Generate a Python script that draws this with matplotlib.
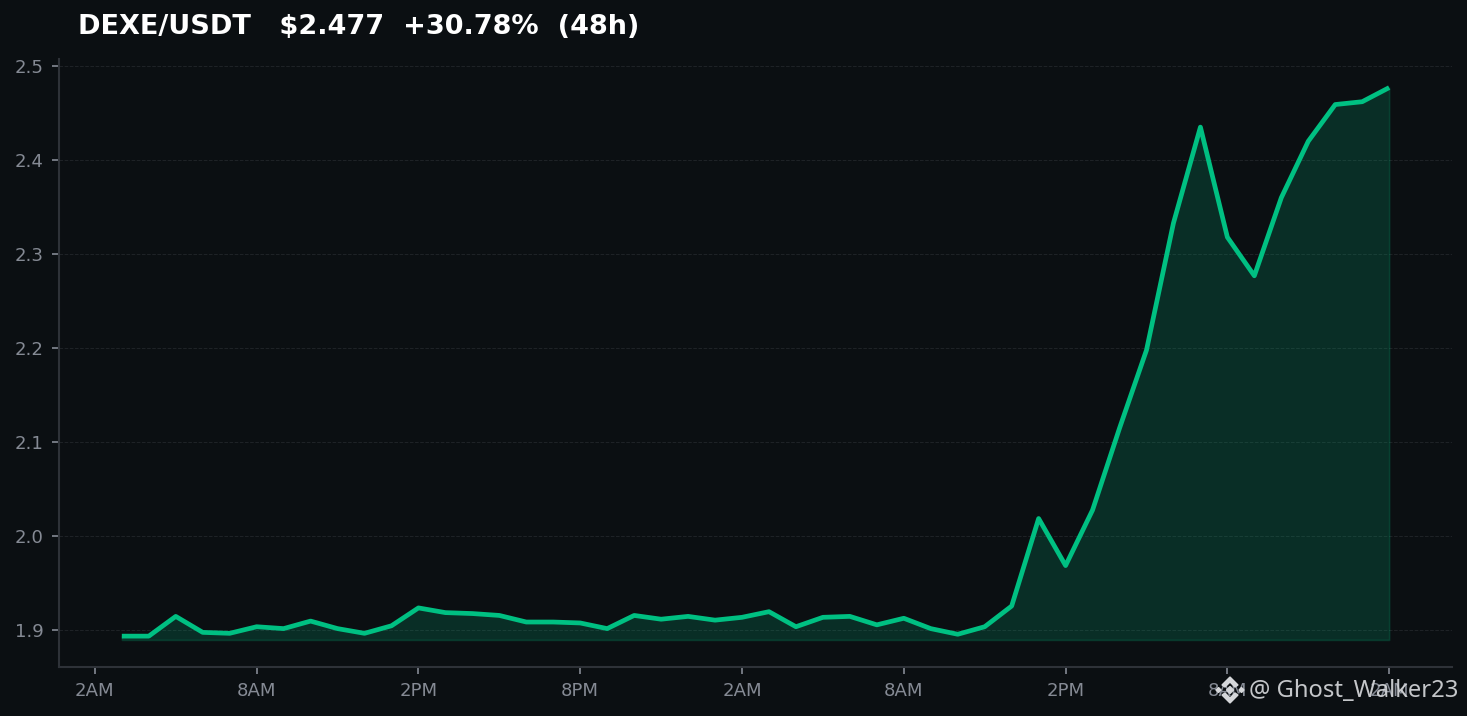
import matplotlib
matplotlib.use("Agg")
import matplotlib.pyplot as plt
from matplotlib.patches import Polygon

# hours since the first 2AM tick
hours = list(range(1, 49))
prices = [1.894, 1.894, 1.915, 1.898, 1.897, 1.904, 1.902, 1.910, 1.902, 1.897,
          1.905, 1.924, 1.919, 1.918, 1.916, 1.909, 1.909, 1.908, 1.902, 1.916,
          1.912, 1.915, 1.911, 1.914, 1.920, 1.904, 1.914, 1.915, 1.906, 1.913,
          1.902, 1.896, 1.904, 1.926, 2.019, 1.969, 2.028, 2.115, 2.198, 2.333,
          2.435, 2.318, 2.277, 2.360, 2.420, 2.459, 2.462, 2.477]
fill_base = 1.89

x_ticks = [0, 6, 12, 18, 24, 30, 36, 42, 48]
x_labels = ["2AM", "8AM", "2PM", "8PM", "2AM", "8AM", "2PM", "8AM", "2AM"]
y_ticks = [1.9, 2.0, 2.1, 2.2, 2.3, 2.4, 2.5]

BG = "#0b0f12"
GREEN = "#00c082"
GREY = "#858a94"
SPINE = "#2e3238"

W, H = 1467, 716
fig = plt.figure(figsize=(W / 100, H / 100), dpi=100, facecolor=BG)
ax = fig.add_axes([59 / W, 1 - 667 / H, (1452 - 59) / W, (667 - 59) / H], facecolor=BG)

ax.fill_between(hours, prices, fill_base, color=GREEN, alpha=0.18, linewidth=1.2)
ax.plot(hours, prices, color=GREEN, linewidth=3.4, solid_capstyle="butt", solid_joinstyle="round")

ax.set_xlim(-1.33, 50.33)
ax.set_ylim(1.8612, 2.5074)
ax.set_xticks(x_ticks, x_labels)
ax.set_yticks(y_ticks, [f"{v:.1f}" for v in y_ticks])
ax.tick_params(colors=GREY, labelsize=13.1, length=5, width=1.2, color=GREY, pad=6)
ax.grid(axis="y", color="#1f2327", linestyle="--", linewidth=0.7)
ax.set_axisbelow(True)

for side in ["top", "right"]:
    ax.spines[side].set_visible(False)
for side in ["left", "bottom"]:
    ax.spines[side].set_color(SPINE)
    ax.spines[side].set_linewidth(1.5)

fig.text(78 / W, 1 - 27.5 / H, "DEXE/USDT   $2.477  +30.78%  (48h)", color="white",
         fontsize=19.5, fontweight="bold", va="center", ha="left")

# watermark
fig.text(1249 / W, 1 - 691 / H, "@ Ghost_Walker23", color="#d5d7da", alpha=0.92,
         fontsize=17.1, family="Noto Sans", va="center", ha="left")

# little diamond logo, pixel coordinates
def diamond(cx, cy, r):
    pts = [(cx - r, cy), (cx, cy - r), (cx + r, cy), (cx, cy + r)]
    return [(px / W, 1 - py / H) for px, py in pts]

for cx, cy, r in [(1230, 690, 3.5), (1218.5, 690, 2.5), (1241.5, 690, 2.5)]:
    fig.add_artist(Polygon(diamond(cx, cy, r), closed=True, color="#d5d7da",
                           transform=fig.transFigure))
# chevrons above and below the centre
for sign in [-1, 1]:
    pts = [(1222, 690 + sign * 5), (1230, 690 + sign * 13), (1238, 690 + sign * 5),
           (1235, 690 + sign * 3), (1230, 690 + sign * 8), (1225, 690 + sign * 3)]
    fig.add_artist(Polygon([(px / W, 1 - py / H) for px, py in pts], closed=True,
                           color="#d5d7da", transform=fig.transFigure))

fig.savefig("out.png", dpi=100, facecolor=BG)
